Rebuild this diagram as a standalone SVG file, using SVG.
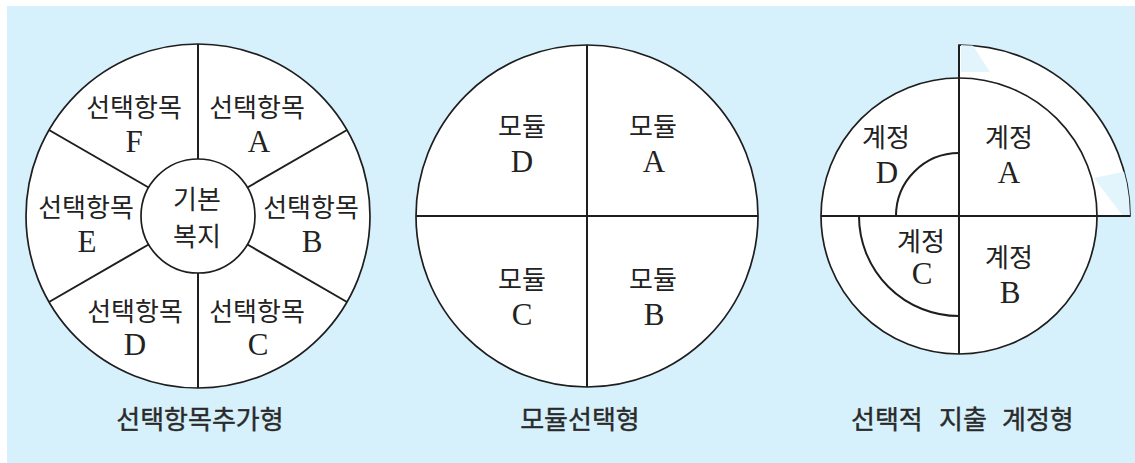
<svg xmlns="http://www.w3.org/2000/svg" width="1135" height="463" viewBox="0 0 1135 463">
<style>
.ln{stroke:#1e1e1e;stroke-width:2;fill:none}
.ci{stroke:#1e1e1e;stroke-width:1.7;fill:#fff}
.ko{font-family:"Noto Sans CJK KR","Noto Sans",sans-serif;font-size:26px;fill:#222;text-anchor:middle}
.la{font-family:"Liberation Serif",serif;font-size:31px;fill:#222;text-anchor:middle}
.ti{font-family:"Noto Sans CJK KR","Noto Sans",sans-serif;font-size:26px;fill:#2a2a2a;stroke:#2a2a2a;stroke-width:0.4;text-anchor:middle}
</style>
<defs>
<clipPath id="band"><path d="M959,216 L959,45 A171,171 0 0 1 1130,216 Z"/></clipPath>
</defs>
<rect x="7" y="6" width="1128" height="457" fill="#d6f1fb"/>

<g id="diagram1">
<circle class="ci" cx="198" cy="216" r="172"/>
<g class="ln">
<line x1="198" y1="159" x2="198" y2="44"/>
<line x1="198" y1="273" x2="198" y2="388"/>
<line x1="247.4" y1="187.5" x2="347" y2="130"/>
<line x1="247.4" y1="244.5" x2="347" y2="302"/>
<line x1="148.6" y1="187.5" x2="49" y2="130"/>
<line x1="148.6" y1="244.5" x2="49" y2="302"/>
</g>
<circle class="ci" cx="198" cy="216" r="57"/>
<g id="d1-F"><text class="ko" x="134" y="117">선택항목</text><text class="la" x="134" y="152">F</text></g>
<g id="d1-A"><text class="ko" x="257" y="117">선택항목</text><text class="la" x="259" y="152">A</text></g>
<g id="d1-E"><text class="ko" x="86" y="217">선택항목</text><text class="la" x="87" y="252">E</text></g>
<g id="d1-B"><text class="ko" x="311" y="217">선택항목</text><text class="la" x="312" y="252">B</text></g>
<g id="d1-D"><text class="ko" x="135" y="321">선택항목</text><text class="la" x="135" y="355">D</text></g>
<g id="d1-C"><text class="ko" x="257" y="321">선택항목</text><text class="la" x="258" y="355">C</text></g>
<g id="d1-center"><text class="ko" x="197" y="209">기본</text><text class="ko" x="197" y="246">복지</text></g>
<text class="ti" x="200" y="429">선택항목추가형</text>
</g>

<g id="diagram2">
<circle class="ci" cx="587" cy="216" r="171"/>
<g class="ln">
<line x1="587" y1="45" x2="587" y2="387"/>
<line x1="416" y1="216" x2="758" y2="216"/>
</g>
<g id="d2-D"><text class="ko" x="522" y="136">모듈</text><text class="la" x="522" y="172">D</text></g>
<g id="d2-A"><text class="ko" x="653" y="136">모듈</text><text class="la" x="654" y="172">A</text></g>
<g id="d2-C"><text class="ko" x="522" y="289">모듈</text><text class="la" x="522" y="325">C</text></g>
<g id="d2-B"><text class="ko" x="653" y="289">모듈</text><text class="la" x="654" y="325">B</text></g>
<text class="ti" x="580" y="429">모듈선택형</text>
</g>

<g id="diagram3">
<path class="ci" d="M959,216 L959,45 A171,171 0 0 1 1130,216 Z"/>
<g clip-path="url(#band)" fill="#e2f5fc">
<polygon points="961,44 972,44 990,72 961,72"/>
<polygon points="1094,178 1131,170 1131,215 1122,215"/>
</g>
<circle class="ci" cx="959" cy="216" r="138"/>
<g class="ln">
<line x1="959" y1="45" x2="959" y2="354"/>
<line x1="821" y1="216" x2="1130" y2="216"/>
<path d="M959,153 A63,63 0 0 0 896,216"/>
<path d="M859,216 A100,100 0 0 0 959,316"/>
</g>
<g id="d3-D"><text class="ko" x="886" y="147">계정</text><text class="la" x="887" y="183">D</text></g>
<g id="d3-A"><text class="ko" x="1009" y="147">계정</text><text class="la" x="1009" y="183">A</text></g>
<g id="d3-C"><text class="ko" x="921" y="251">계정</text><text class="la" x="922" y="284">C</text></g>
<g id="d3-B"><text class="ko" x="1009" y="267">계정</text><text class="la" x="1010" y="303">B</text></g>
<text class="ti" y="429" style="text-anchor:start"><tspan x="851">선택적</tspan><tspan x="939">지출</tspan><tspan x="1002">계정형</tspan></text>
</g>
</svg>
